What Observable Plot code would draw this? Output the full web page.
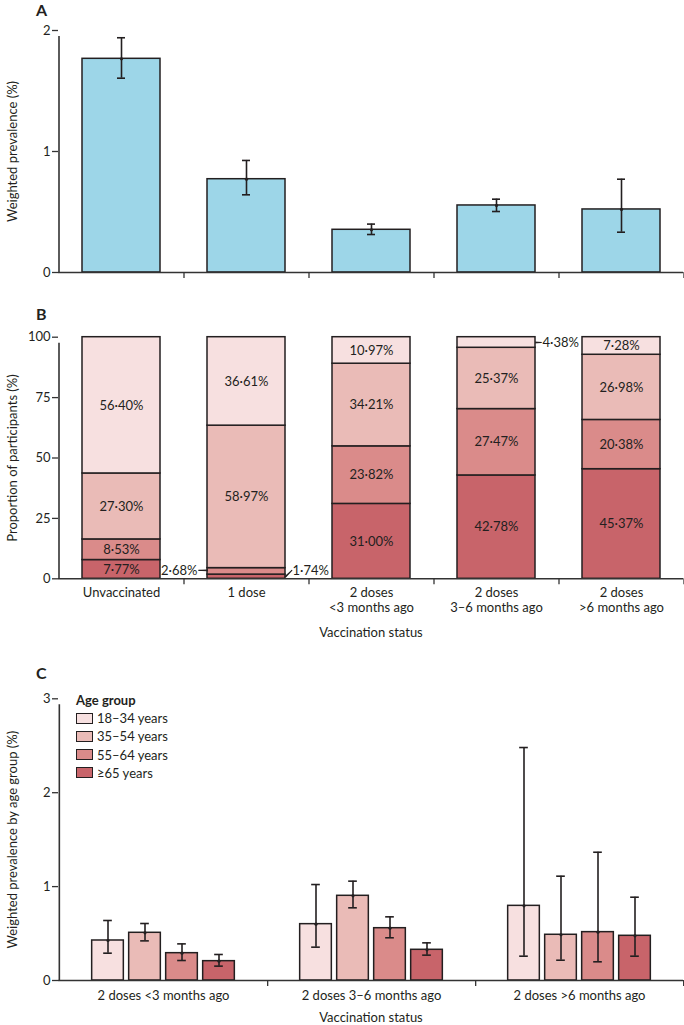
<!DOCTYPE html>
<html><head><meta charset="utf-8">
<script src="https://cdn.jsdelivr.net/npm/d3@7"></script>
<script src="https://cdn.jsdelivr.net/npm/@observablehq/plot@0.6"></script>
<style>
body{margin:0;background:#fff;font-family:Lato,"Open Sans",sans-serif;color:#231f20}
#wrap{position:relative;width:684px;height:1025px;overflow:hidden}
.panel{position:absolute;left:0}
.letter{position:absolute;left:36px;font-size:16px;font-weight:700;line-height:1}
#legend{position:absolute;left:76px;top:691px;font-size:13px;line-height:18.2px}
#legend .t{font-weight:700}
#legend .it{display:flex;align-items:center}
#legend .sw{display:inline-block;width:15px;height:9px;border:1.5px solid #231f20;margin-right:4px}
</style></head><body><div id="wrap"></div>
<script>
// ---------- data ----------
const statuses = ["Unvaccinated", "1 dose", "2 doses\n<3 months ago", "2 doses\n3–6 months ago", "2 doses\n>6 months ago"];
const prevalence = [1.766, 0.771, 0.353, 0.554, 0.521];
const prevLower = [1.606, 0.642, 0.314, 0.504, 0.333];
const prevUpper = [1.940, 0.926, 0.400, 0.606, 0.771];

const ageGroups = ["18–34 years", "35–54 years", "55–64 years", "≥65 years"];
const share18to34 = [56.40, 36.61, 10.97, 4.38, 7.28];
const share35to54 = [27.30, 58.97, 34.21, 25.37, 26.98];
const share55to64 = [8.53, 2.68, 23.82, 27.47, 20.38];
const share65plus = [7.77, 1.74, 31.00, 42.78, 45.37];

const groupsC = ["2 doses <3 months ago", "2 doses 3–6 months ago", "2 doses >6 months ago"];
const prevC = {
  "18–34 years": [0.426, 0.600, 0.795],
  "35–54 years": [0.508, 0.902, 0.487],
  "55–64 years": [0.291, 0.557, 0.515],
  "≥65 years":   [0.206, 0.327, 0.476]
};
const lowC = {
  "18–34 years": [0.291, 0.355, 0.259],
  "35–54 years": [0.422, 0.774, 0.216],
  "55–64 years": [0.213, 0.455, 0.199],
  "≥65 years":   [0.153, 0.270, 0.259]
};
const highC = {
  "18–34 years": [0.639, 1.022, 2.481],
  "35–54 years": [0.607, 1.058, 1.111],
  "55–64 years": [0.390, 0.678, 1.366],
  "≥65 years":   [0.277, 0.401, 0.887]
};

// ---------- styles ----------
const ageColors = ["#f7e0e0", "#eabbb7", "#da8b8a", "#c8646a"];
const ink = "#231f20";
const axisInk = "#333333";
const W = 684, ML = 58, MR = 1;
const font = {fontFamily: "Lato, 'Open Sans', sans-serif", fontSize: "13px", color: ink, background: "transparent"};
const fmt = v => d3.format(".2f")(v).replace(".", "·") + "%";
const stepA = (W - ML - MR) / statuses.length;

const wrap = document.getElementById("wrap");
function place(node, top) { node.classList.add("panel"); node.style.top = top + "px"; wrap.appendChild(node); }
function letter(t, top) { const d = document.createElement("div"); d.className = "letter"; d.style.top = top + "px"; d.textContent = t; wrap.appendChild(d); }

// ---------- Panel A ----------
const dataA = statuses.map((s, i) => ({status: s, value: prevalence[i], lo: prevLower[i], hi: prevUpper[i]}));
const plotA = Plot.plot({
  width: W, height: 290, marginLeft: ML, marginRight: MR, marginTop: 30, marginBottom: 18,
  style: font,
  x: {domain: statuses, paddingInner: 0.376, paddingOuter: 0.188, axis: null},
  y: {domain: [0, 2], axis: null},
  marks: [
    Plot.barY(dataA, {x: "status", y: "value", fill: "#9dd6e8", stroke: ink, strokeWidth: 1.5}),
    Plot.ruleX(dataA, {x: "status", y1: "lo", y2: "hi", stroke: ink, strokeWidth: 1.6}),
    Plot.tickY(dataA, {x: "status", y: "lo", insetLeft: 35, insetRight: 35, stroke: ink, strokeWidth: 1.6}),
    Plot.tickY(dataA, {x: "status", y: "hi", insetLeft: 35, insetRight: 35, stroke: ink, strokeWidth: 1.6}),
    Plot.dot(dataA, {x: "status", y: "value", r: 1.6, fill: ink, stroke: null}),
    Plot.ruleY([0], {stroke: axisInk, strokeWidth: 1.6}),
    Plot.ruleX([statuses[0]], {dx: -stepA / 2, y1: 0, y2: 2, insetBottom: -6, stroke: axisInk, strokeWidth: 1.6}),
    Plot.axisY({ticks: [0, 1, 2], tickSize: 6, tickPadding: 2, tickFormat: d => String(d), stroke: axisInk, strokeWidth: 1.3,
      label: "Weighted prevalence (%)", labelAnchor: "center", labelArrow: "none", labelOffset: 51}),
    Plot.axisX({tickSize: 6, tickFormat: () => "", dx: stepA / 2, label: null, stroke: axisInk, strokeWidth: 1.3})
  ]
});
place(plotA, 0);
letter("A", 2);

// ---------- Panel B ----------
const shareByAge = {"≥65 years": share65plus, "55–64 years": share55to64, "35–54 years": share35to54, "18–34 years": share18to34};
const stackOrder = ["≥65 years", "55–64 years", "35–54 years", "18–34 years"];
const dataB = [];
statuses.forEach((s, i) => stackOrder.forEach(a => dataB.push({status: s, age: a, value: shareByAge[a][i]})));
// small segments labelled outside with leader lines
const outside = [];
statuses.forEach(s => {
  let cum = 0;
  dataB.filter(d => d.status === s).forEach(d => {
    const mid = cum + d.value / 2; cum += d.value;
    if (d.value < 5) outside.push({...d, mid});
  });
});
const leftOut = outside.filter(d => d.age === "55–64 years");
const rightLow = outside.filter(d => d.age === "≥65 years");
const rightTop = outside.filter(d => d.age === "18–34 years");
const half = stepA * (1 - 0.376) / 2;
const plotB = Plot.plot({
  width: W, height: 355, marginLeft: ML, marginRight: MR, marginTop: 46.7, marginBottom: 66.7,
  style: font,
  x: {domain: statuses, paddingInner: 0.376, paddingOuter: 0.188, axis: null},
  y: {domain: [0, 100], axis: null},
  color: {domain: ageGroups, range: ageColors},
  marks: [
    Plot.barY(dataB, {x: "status", y: "value", fill: "age", z: "age", stroke: ink, strokeWidth: 1.5}),
    Plot.text(dataB, Plot.stackY({x: "status", y: "value", z: "age", fill: ink,
      text: d => d.value >= 5 ? fmt(d.value) : ""})),
    Plot.text(leftOut, {x: "status", y: "mid", text: d => fmt(d.value), textAnchor: "end", dx: -half - 10, dy: -1, fill: ink}),
    Plot.vector(leftOut, {x: "status", y: "mid", dx: -half, dy: -1, length: 9, rotate: -90, anchor: "start", shape: "spike", r: 0.4, fill: ink, stroke: ink, strokeWidth: 1}),
    Plot.text(rightLow, {x: "status", y: "mid", text: d => fmt(d.value), textAnchor: "start", dx: half + 7, dy: -6, fill: ink}),
    Plot.vector(rightLow, {x: "status", y: "mid", dx: half, length: 9, rotate: 45, anchor: "start", shape: "spike", r: 0.4, fill: ink, stroke: ink, strokeWidth: 1}),
    Plot.text(rightTop, {x: "status", y: "mid", text: d => fmt(d.value), textAnchor: "start", dx: half + 7, fill: ink}),
    Plot.vector(rightTop, {x: "status", y: "mid", dx: half, length: 6, rotate: 90, anchor: "start", shape: "spike", r: 0.4, fill: ink, stroke: ink, strokeWidth: 1}),
    Plot.ruleY([0], {stroke: axisInk, strokeWidth: 1.6}),
    Plot.ruleX([statuses[0]], {dx: -stepA / 2, y1: 0, y2: 100, insetBottom: -6, stroke: axisInk, strokeWidth: 1.6}),
    Plot.axisY({ticks: [0, 25, 50, 75, 100], tickSize: 6, tickPadding: 2, stroke: axisInk, strokeWidth: 1.3,
      label: "Proportion of participants (%)", labelAnchor: "center", labelArrow: "none", labelOffset: 51}),
    Plot.axisX({tickSize: 6, tickFormat: () => "", dx: stepA / 2, label: null, stroke: axisInk, strokeWidth: 1.3}),
    Plot.axisX({tickSize: 0, tickPadding: 7, lineHeight: 1.2, label: "Vaccination status", labelAnchor: "center", labelArrow: "none", labelOffset: 58})
  ]
});
place(plotB, 290);
letter("B", 306);

// ---------- Panel C ----------
const dataC = [];
ageGroups.forEach(a => groupsC.forEach((g, i) => dataC.push({group: g, age: a, value: prevC[a][i], lo: lowC[a][i], hi: highC[a][i]})));
const stepC = (W - ML - MR) / groupsC.length;
const barW = 32, barStep = 37, capHalf = 4.5;
const perAge = ageGroups.map((a, k) => {
  const off = (k - 1.5) * barStep;
  const c = stepC / 2 + off;
  const rows = dataC.filter(d => d.age === a);
  return [
    Plot.barY(rows, {x: "group", y: "value", fill: "age", stroke: ink, strokeWidth: 1.5,
      insetLeft: c - barW / 2, insetRight: stepC - c - barW / 2}),
    Plot.ruleX(rows, {x: "group", y1: "lo", y2: "hi", dx: off, stroke: ink, strokeWidth: 1.6}),
    Plot.tickY(rows, {x: "group", y: "lo", insetLeft: c - capHalf, insetRight: stepC - c - capHalf, stroke: ink, strokeWidth: 1.6}),
    Plot.tickY(rows, {x: "group", y: "hi", insetLeft: c - capHalf, insetRight: stepC - c - capHalf, stroke: ink, strokeWidth: 1.6}),
    Plot.dot(rows, {x: "group", y: "value", dx: off, r: 1.6, fill: ink, stroke: null})
  ];
});
const plotC = Plot.plot({
  width: W, height: 375, marginLeft: ML, marginRight: MR, marginTop: 48.3, marginBottom: 45,
  style: font,
  x: {domain: groupsC, padding: 0, axis: null},
  y: {domain: [0, 3], axis: null},
  color: {domain: ageGroups, range: ageColors},
  marks: [
    ...perAge.flat(),
    Plot.ruleY([0], {stroke: axisInk, strokeWidth: 1.6}),
    Plot.ruleX([groupsC[0]], {dx: -stepC / 2, y1: 0, y2: 3, insetBottom: -6, stroke: axisInk, strokeWidth: 1.6}),
    Plot.axisY({ticks: [0, 1, 2, 3], tickSize: 6, tickPadding: 2, tickFormat: d => String(d), stroke: axisInk, strokeWidth: 1.3,
      label: "Weighted prevalence by age group (%)", labelAnchor: "center", labelArrow: "none", labelOffset: 51}),
    Plot.axisX({tickSize: 6, tickFormat: () => "", dx: stepC / 2, label: null, stroke: axisInk, strokeWidth: 1.3}),
    Plot.axisX({tickSize: 0, tickPadding: 10, label: "Vaccination status", labelAnchor: "center", labelArrow: "none", labelOffset: 41})
  ]
});
place(plotC, 650);
letter("C", 665);

// legend
const lg = document.createElement("div");
lg.id = "legend";
lg.innerHTML = `<div class="t">Age group</div>` + ageGroups.map((a, i) =>
  `<div class="it"><span class="sw" style="background:${ageColors[i]}"></span>${a}</div>`).join("");
wrap.appendChild(lg);
</script>
</body></html>
